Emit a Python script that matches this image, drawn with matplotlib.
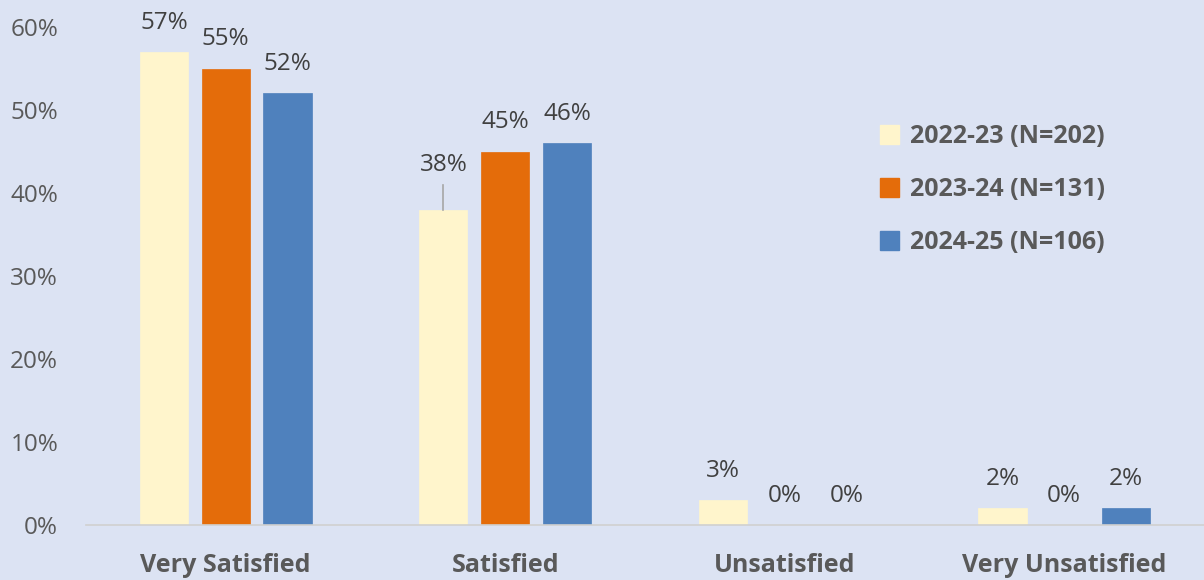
import numpy as np
import matplotlib.pyplot as plt
from matplotlib.patches import Patch

categories = ["Very Satisfied", "Satisfied", "Unsatisfied", "Very Unsatisfied"]
series = ["2022-23 (N=202)", "2023-24 (N=131)", "2024-25 (N=106)"]
v2022 = [57, 38, 3, 2]
v2023 = [55, 45, 0, 0]
v2024 = [52, 46, 0, 2]
colors = ["#FFF5CC", "#E46C0A", "#4F81BD"]

bg = "#DCE3F3"
txt = "#595959"
plt.rcParams["font.family"] = ["Open Sans", "DejaVu Sans"]

fig = plt.figure(figsize=(12.04, 5.8), dpi=100, facecolor=bg)
ax = fig.add_axes([0.0714, 0.0948, 0.9286, 0.8586], facecolor=bg)

x = np.arange(len(categories))
width = 0.172
offset = 0.221
for i, (vals, col) in enumerate(zip([v2022, v2023, v2024], colors)):
    pos = x + (i - 1) * offset
    ax.bar(pos, vals, width, color=col, edgecolor=col, linewidth=0.5, label=series[i])
    for p, v in zip(pos, vals):
        if i == 0 and v == 38:
            # label moved up with a leader line, as in the original
            ax.text(p, v + 5.4, f"{v}%", ha="center", va="center", fontsize=17.5, color="#404040", clip_on=False)
            ax.plot([p, p], [v, v + 3.0], color="#A6A6A6", lw=1.2)
        else:
            ax.text(p, v + 3.5, f"{v}%", ha="center", va="center", fontsize=17.5, color="#404040", clip_on=False)

ax.set_xlim(-0.5, 3.5)
ax.set_ylim(0, 60)
ax.set_yticks(range(0, 61, 10))
ax.set_yticklabels([f"{t}%" for t in range(0, 61, 10)], fontsize=17.5, color=txt)
ax.set_xticks(x)
ax.set_xticklabels(categories, fontsize=18, fontweight="bold", color=txt)
ax.tick_params(axis="both", length=0)
ax.tick_params(axis="y", pad=20)
ax.tick_params(axis="x", pad=20)
for s in ["top", "right", "left"]:
    ax.spines[s].set_visible(False)
ax.spines["bottom"].set_color("#D0D0D0")
ax.spines["bottom"].set_linewidth(1.2)

handles = [Patch(facecolor=c, edgecolor=c) for c in colors]
leg = ax.legend(handles, series, loc="upper left", bbox_to_anchor=(0.69, 0.85), frameon=False,
                prop={"size": 18, "weight": "bold"}, labelspacing=1.12, handlelength=0.75, handleheight=0.75,
                handletextpad=0.45)
for t in leg.get_texts():
    t.set_color(txt)

fig.savefig("out.png", dpi=100, facecolor=bg)
